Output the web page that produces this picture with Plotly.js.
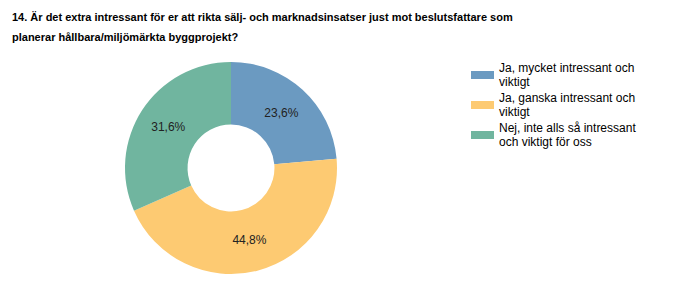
<!DOCTYPE html>
<html><head><meta charset="utf-8">
<script src="https://cdn.plot.ly/plotly-3.0.1.min.js"></script>
<style>html,body{margin:0;padding:0;background:#fff}</style>
</head><body>
<div id="chart" style="width:675px;height:289px"></div>
<script>
const categories = ["Ja, mycket intressant och<br>viktigt", "Ja, ganska intressant och<br>viktigt", "Nej, inte alls så intressant<br>och viktigt för oss"];
const values = [23.6, 44.8, 31.6];
const colors = ["#6b9ac1", "#fdca72", "#70b59f"];
const titleLines = ["14. Är det extra intressant för er att rikta sälj- och marknadsinsatser just mot beslutsfattare som", "planerar hållbara/miljömärkta byggprojekt?"];

const W = 675, H = 289;
const data = [{
  type: "pie",
  labels: categories,
  values: values,
  marker: {colors: colors, line: {width: 0}},
  hole: 0.41,
  sort: false,
  direction: "clockwise",
  rotation: 0,
  texttemplate: "%{value:.1f}%",
  textposition: "inside",
  insidetextorientation: "horizontal",
  textfont: {family: "Liberation Sans, Arial", size: 12, color: "#222"},
  hoverinfo: "none",
  showlegend: false,
  domain: {x: [125/W, 337/W], y: [1-274/H, 1-62/H]}
}];

const annotations = [];
const shapes = [];
titleLines.forEach((t, i) => {
  annotations.push({text: t, xref: "paper", yref: "paper", x: 10/W, y: 1-(17+i*20)/H,
    xanchor: "left", yanchor: "middle", showarrow: false,
    font: {family: "Liberation Sans, Arial", size: 11, color: "#000", weight: "bold"}});
});
categories.forEach((c, i) => {
  const top = 68 + i*30;
  c.split("<br>").forEach((line, j) => {
    annotations.push({text: line, xref: "paper", yref: "paper", x: 497/W, y: 1-(top + j*14)/H,
      xanchor: "left", yanchor: "middle", showarrow: false,
      font: {family: "Liberation Sans, Arial", size: 12, color: "#000"}});
  });
  shapes.push({type: "rect", xref: "paper", yref: "paper", x0: 471/W, x1: 494/W,
    y0: 1-(top+3)/H, y1: 1-(top+11)/H, fillcolor: colors[i], line: {width: 0}});
});

const layout = {
  width: W, height: H,
  margin: {l: 0, r: 0, t: 0, b: 0},
  paper_bgcolor: "#fff",
  separators: ", ",
  showlegend: false,
  annotations: annotations,
  shapes: shapes
};
Plotly.newPlot("chart", data, layout, {displayModeBar: false, staticPlot: true});
</script>
</body></html>
